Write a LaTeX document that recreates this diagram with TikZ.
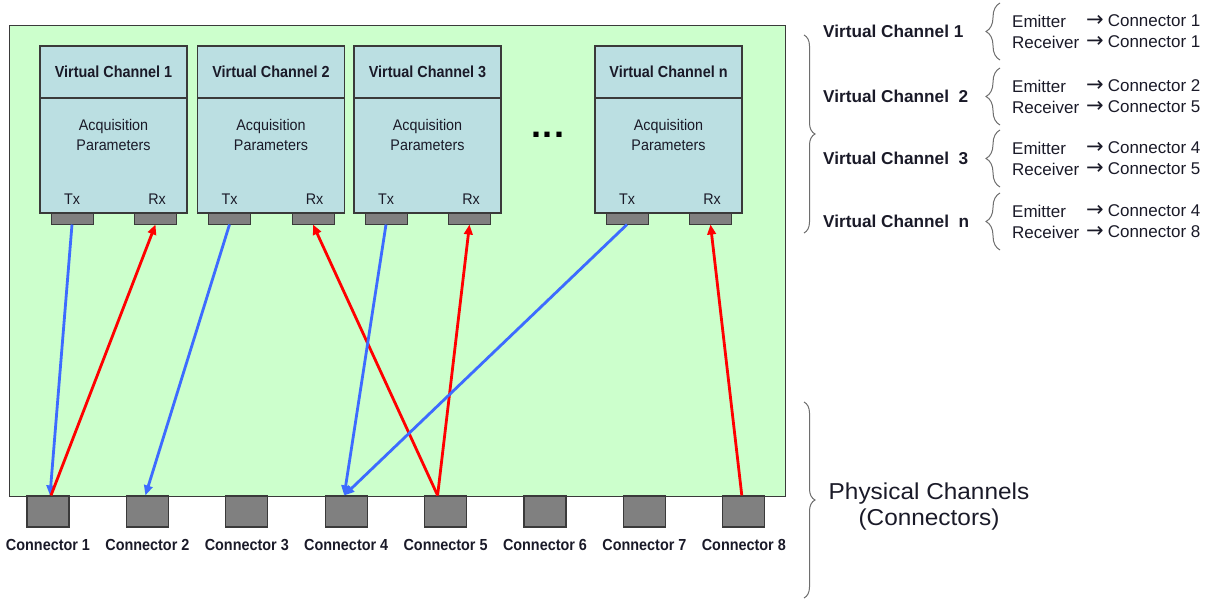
\documentclass[tikz,border=0pt]{standalone}
\usepackage{fontspec}
\setmainfont{Liberation Sans}
\newfontfamily\condfont[FakeStretch=0.9]{Liberation Sans}
\newfontfamily\smallcond[FakeStretch=0.93]{Liberation Sans}
\newfontfamily\widefont[FakeStretch=1.06]{Liberation Sans}
\newfontfamily\symfont{DejaVu Sans}
\usetikzlibrary{arrows.meta,decorations.pathreplacing}
\definecolor{bggreen}{HTML}{CCFFCC}
\definecolor{vcblue}{HTML}{BBDFE2}
\definecolor{portgray}{HTML}{808080}
\definecolor{edgegray}{HTML}{3A3A3A}
\definecolor{txblue}{HTML}{3D6BFF}
\definecolor{rxred}{HTML}{FF0000}
\definecolor{bracegray}{HTML}{6E6E6E}
\definecolor{inktext}{HTML}{1A1A28}
\newcommand{\sidearrow}{{\symfont\fontsize{21}{20}\selectfont →}\kern4pt}
\tikzset{
  panel/.style={draw=edgegray, line width=1.4pt, fill=bggreen, inner sep=0pt, anchor=north west, minimum width=776pt, minimum height=471pt},
  vchead/.style={draw=edgegray, line width=1.3pt, fill=vcblue, minimum width=147pt, minimum height=52pt, inner sep=0pt, text=inktext, font=\condfont\fontsize{16}{18}\selectfont\bfseries},
  vcbody/.style={draw=edgegray, line width=1.3pt, fill=vcblue, minimum width=147pt, minimum height=115pt, inner sep=0pt},
  port/.style={draw=edgegray, line width=1pt, fill=portgray, minimum width=42pt, minimum height=11pt, inner sep=0pt},
  conn/.style={draw=edgegray, line width=1.2pt, fill=portgray, minimum width=42pt, minimum height=31pt, inner sep=0pt},
  conlabel/.style={text=inktext, inner sep=0pt, font=\condfont\fontsize{16}{18}\selectfont\bfseries},
  smalltext/.style={text=inktext, inner sep=0pt, font=\smallcond\fontsize{15.4}{20}\selectfont, align=center},
  sidehead/.style={text=inktext, inner sep=0pt, anchor=west, font=\fontsize{17.2}{20}\selectfont\bfseries},
  sidetext/.style={text=inktext, inner sep=0pt, anchor=west, font=\fontsize{17}{20}\selectfont},
  bigtext/.style={text=inktext, inner sep=0pt, anchor=base, font=\widefont\fontsize{23}{26}\selectfont},
  txline/.style={draw=txblue, line width=2.8pt, -{Triangle[length=10pt,width=8.5pt]}},
  rxline/.style={draw=rxred, line width=2.8pt, -{Triangle[length=10pt,width=8.5pt]}},
  bigbrace/.style={draw=bracegray, line width=1pt, decorate, decoration={brace, amplitude=11pt}},
  smallbrace/.style={draw=bracegray, line width=1pt, decorate, decoration={brace, amplitude=14pt}}
}
\begin{document}
\begin{tikzpicture}[x=1pt,y=-1pt]
\useasboundingbox (0,0) rectangle (1212,599);
% board
\node[panel] (board) at (9,25) {};
% virtual channel boxes
\foreach \n/\lx/\t in {1/40/Virtual Channel 1, 2/197.5/Virtual Channel 2, 3/354/Virtual Channel 3, n/595/Virtual Channel n}{
  \node[vcbody] (vb\n) at (\lx+73.5,155.5) {};
  \node[vchead] (vh\n) at (\lx+73.5,72) {\t};
  \node[smalltext] (aq\n) at (\lx+73.5,134.5) {Acquisition\\Parameters};
  \node[smalltext] (txl\n) at (\lx+32,199.5) {Tx};
  \node[smalltext] (rxl\n) at (\lx+117,199.5) {Rx};
  \node[port] (tx\n) at (\lx+32,218.5) {};
  \node[port] (rx\n) at (\lx+115.5,218.5) {};
}
\node[inner sep=0pt, anchor=base, text=black, font=\fontsize{36}{36}\selectfont\bfseries] (dots) at (548,138) {.\kern1.5pt.\kern1.5pt.};
% connectors
\foreach \i in {1,...,8}{
  \node[conn] (c\i) at (48+99.4*\i-99.4,511.5) {};
  \node[conlabel] (cl\i) at (48+99.4*\i-99.4,545) {Connector \i};
}
% links
\draw[txline] (tx1.south) -- ([xshift=2pt]c1.north);
\draw[rxline] ([xshift=3pt]c1.north) -- (rx1.south);
\draw[txline] (tx2.south) -- ([xshift=-2pt]c2.north);
\draw[rxline] ([xshift=-8pt]c5.north) -- (rx2.south);
\draw[txline] (tx3.south) -- ([xshift=-2pt]c4.north);
\draw[rxline] ([xshift=-8pt]c5.north) -- (rx3.south);
\draw[txline] (txn.south) -- ([xshift=-2pt]c4.north);
\draw[rxline] ([xshift=-2pt]c8.north) -- (rxn.south);
% right side
\coordinate (b1t) at (804,35);
\coordinate (b1b) at (804,233);
\draw[bigbrace] (b1t) -- (b1b);
\coordinate (b2t) at (804,402);
\coordinate (b2b) at (804,598);
\draw[bigbrace] (b2t) -- (b2b);
\node[bigtext] (phys1) at (929,499) {Physical Channels};
\node[bigtext] (phys2) at (929,525.5) {(Connectors)};
\foreach \k/\y/\lab/\ce/\cr in {1/31/Virtual Channel 1/1/1, 2/96/Virtual Channel\ \ 2/2/5, 3/158/Virtual Channel\ \ 3/4/5, 4/221/Virtual Channel\ \ n/4/8}{
  \node[sidehead] (sh\k) at (823,\y) {\lab};
  \coordinate (sbb\k) at (1000,\y+29);
  \coordinate (sbt\k) at (1000,\y-28);
  \draw[smallbrace] (sbb\k) -- (sbt\k);
  \node[sidetext] (em\k) at (1012,\y-10) {Emitter};
  \node[sidetext] (re\k) at (1012,\y+11) {Receiver};
  \node[sidetext] (emc\k) at (1086,\y-10) {\sidearrow Connector \ce};
  \node[sidetext] (rec\k) at (1086,\y+11) {\sidearrow Connector \cr};
}
\end{tikzpicture}
\end{document}
